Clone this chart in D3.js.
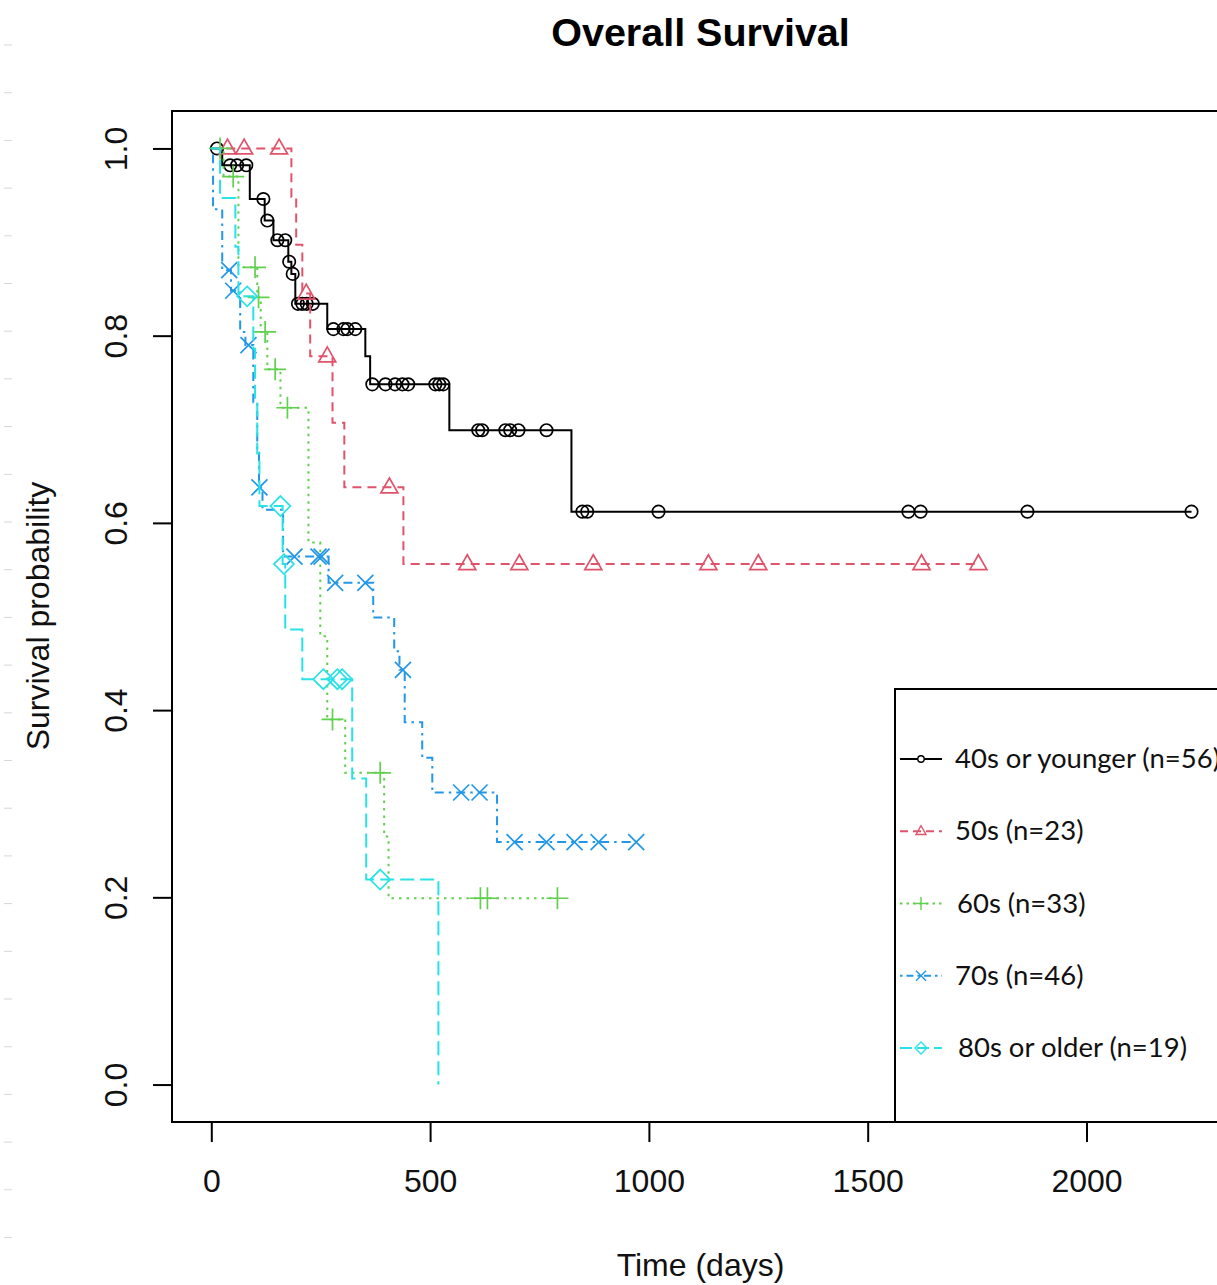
<!DOCTYPE html>
<html><head><meta charset="utf-8">
<script src="https://cdn.jsdelivr.net/npm/d3@7"></script>
<style>body{margin:0;background:#fff} svg{display:block}</style>
</head><body>
<svg id="chart" width="1217" height="1285"></svg>
<script>
// ---------------- data ----------------
const groupNames = ["40s or younger (n=56)", "50s (n=23)", "60s (n=33)", "70s (n=46)", "80s or older (n=19)"];
const xTicks = [0, 500, 1000, 1500, 2000];
const yTicks = [0.0, 0.2, 0.4, 0.6, 0.8, 1.0];

// 40s or younger
const g40_stepTimes = [25, 88, 122, 142, 176, 183, 192, 265, 352, 363, 544, 823];
const g40_stepSurv  = [0.982, 0.946, 0.923, 0.902, 0.879, 0.866, 0.834, 0.807, 0.778, 0.748, 0.699, 0.612];
const g40_censor    = [13, 43, 59, 80, 119, 128, 151, 169, 178, 186, 198, 208, 218, 232, 279, 302, 311, 329, 368, 398, 420, 437, 450, 512, 521, 530, 610, 619, 672, 683, 702, 766, 848, 859, 1022, 1593, 1621, 1865, 2240];
const g40_end = 2240;

// 50s
const g50_stepTimes = [183, 194, 208, 226, 277, 304, 439];
const g50_stepSurv  = [0.948, 0.897, 0.845, 0.778, 0.707, 0.638, 0.556];
const g50_censor    = [37, 75, 155, 217, 265, 407, 585, 704, 873, 1136, 1250, 1623, 1753];
const g50_end = 1753;

// 60s
const g60_stepTimes = [28, 62, 105, 113, 128, 158, 222, 249, 265, 306, 395, 405];
const g60_stepSurv  = [0.970, 0.873, 0.841, 0.804, 0.764, 0.723, 0.579, 0.479, 0.390, 0.333, 0.265, 0.199];
const g60_censor    = [20, 50, 100, 108, 123, 146, 174, 277, 386, 615, 631, 791];
const g60_end = 791;

// 70s
const g70_stepTimes = [4, 25, 45, 66, 78, 96, 105, 109, 117, 164, 268, 370, 418, 430, 442, 482, 505, 653];
const g70_stepSurv  = [0.935, 0.870, 0.848, 0.804, 0.790, 0.729, 0.675, 0.638, 0.614, 0.564, 0.536, 0.499, 0.463, 0.443, 0.387, 0.349, 0.312, 0.259];
const g70_censor    = [41, 50, 85, 110, 190, 245, 252, 283, 352, 438, 571, 613, 693, 766, 830, 885, 971];
const g70_end = 971;

// 80s or older
const g80_stepTimes = [20, 55, 62, 96, 100, 105, 110, 163, 169, 208, 322, 354, 519];
const g80_stepSurv  = [0.947, 0.895, 0.842, 0.786, 0.730, 0.674, 0.618, 0.556, 0.486, 0.433, 0.327, 0.219, 0.0];
const g80_censor    = [82, 158, 166, 256, 288, 299, 386];
const g80_end = 519;

// ---------------- styles ----------------
const colors  = ["#000000", "#DF536B", "#61D04F", "#2297E6", "#28E2E5"];
const dashes  = [null, "9,6", "2.5,5", "2.5,5,9,5", "14,6"];
const legendDashes = [null, "8,5", "2.5,4", "2.5,4,7,4", "12,5"];
const shapes  = ["circle", "triangle", "plus", "cross", "diamond"];

const series = [
  {t: g40_stepTimes, s: g40_stepSurv, c: g40_censor, end: g40_end},
  {t: g50_stepTimes, s: g50_stepSurv, c: g50_censor, end: g50_end},
  {t: g60_stepTimes, s: g60_stepSurv, c: g60_censor, end: g60_end},
  {t: g70_stepTimes, s: g70_stepSurv, c: g70_censor, end: g70_end},
  {t: g80_stepTimes, s: g80_stepSurv, c: g80_censor, end: g80_end}
].map((d, i) => ({...d, name: groupNames[i], color: colors[i], dash: dashes[i], ldash: legendDashes[i], shape: shapes[i]}));

// ---------------- layout ----------------
const svg = d3.select("#chart");
const W = 1217, H = 1285;
const box = {left: 172, right: 1233, top: 111, bottom: 1122};
const tMax = 2245;
const x = d3.scaleLinear().domain([-0.04 * tMax, 1.04 * tMax]).range([box.left, box.right]);
const y = d3.scaleLinear().domain([-0.04, 1.04]).range([box.bottom, box.top]);
const axisFont = "'Liberation Sans', Arial, sans-serif";

svg.append("rect").attr("width", W).attr("height", H).attr("fill", "#fff");

// faint ruler marks on left edge (screenshot artifact)
svg.append("g").selectAll("line").data(d3.range(45, 1250, 47.7)).join("line")
  .attr("x1", 4).attr("x2", 12).attr("y1", d => d).attr("y2", d => d)
  .attr("stroke", "#d6d6d6").attr("stroke-width", 1);

// title
svg.append("text").attr("x", (box.left + box.right) / 2 - 2).attr("y", 46)
  .attr("text-anchor", "middle").attr("font-family", axisFont)
  .attr("font-weight", "bold").attr("font-size", 39.5).attr("fill", "#000")
  .text("Overall Survival");

// x axis
const xAxis = svg.append("g").attr("transform", `translate(0,${box.bottom})`)
  .call(d3.axisBottom(x).tickValues(xTicks).tickSize(20).tickPadding(27).tickFormat(d3.format("d")));
xAxis.select(".domain").remove();
xAxis.selectAll("line").attr("stroke", "#000").attr("stroke-width", 2);
xAxis.selectAll("text").attr("font-family", axisFont).attr("font-size", 32).attr("fill", "#111");

// y axis
const yAxis = svg.append("g").attr("transform", `translate(${box.left},0)`)
  .call(d3.axisLeft(y).tickValues(yTicks).tickSize(19).tickFormat(d3.format(".1f")));
yAxis.select(".domain").remove();
yAxis.selectAll("line").attr("stroke", "#000").attr("stroke-width", 2);
yAxis.selectAll("text")
  .attr("font-family", axisFont).attr("font-size", 32).attr("fill", "#111")
  .attr("text-anchor", "middle").attr("dy", 0).attr("x", 0)
  .attr("transform", d => `translate(${127 - box.left},0) rotate(-90)`);

// axis titles
svg.append("text").attr("x", (box.left + box.right) / 2 - 2).attr("y", 1276)
  .attr("text-anchor", "middle").attr("font-family", axisFont).attr("font-size", 32).attr("fill", "#111")
  .text("Time (days)");
svg.append("text").attr("transform", `translate(49,616) rotate(-90)`)
  .attr("text-anchor", "middle").attr("font-family", axisFont).attr("font-size", 32).attr("fill", "#111")
  .text("Survival probability");

// plot box
svg.append("rect").attr("x", box.left).attr("y", box.top)
  .attr("width", box.right - box.left).attr("height", box.bottom - box.top)
  .attr("fill", "none").attr("stroke", "#000").attr("stroke-width", 2);

// ---------------- markers ----------------
function markerPath(shape, r) {
  switch (shape) {
    case "circle": return `M${-r},0A${r},${r} 0 1,0 ${r},0A${r},${r} 0 1,0 ${-r},0Z`;
    case "triangle": return `M0,${-r * 1.1}L${r},${r * 0.65}L${-r},${r * 0.65}Z`;
    case "plus": return `M${-r},0H${r}M0,${-r}V${r}`;
    case "cross": return `M${-r},${-r}L${r},${r}M${-r},${r}L${r},${-r}`;
    case "diamond": return `M0,${-r}L${r},0L0,${r}L${-r},0Z`;
  }
}
const markerSize = {circle: 6.2, triangle: 8.5, plus: 11, cross: 8, diamond: 10};
const legendMarkerSize = {circle: 3.2, triangle: 5, plus: 6.5, cross: 5, diamond: 6};

function survAt(sr, t) {
  let v = 1;
  for (let i = 0; i < sr.t.length; i++) if (sr.t[i] <= t) v = sr.s[i];
  return v;
}

const line = d3.line().x(d => x(d[0])).y(d => y(d[1])).curve(d3.curveStepAfter);

const plotG = svg.append("g");
series.forEach(sr => {
  const pts = [[0, 1]];
  sr.t.forEach((t, i) => pts.push([t, sr.s[i]]));
  const last = sr.s[sr.s.length - 1];
  if (sr.end > sr.t[sr.t.length - 1]) pts.push([sr.end, last]);
  plotG.append("path").datum(pts).attr("d", line)
    .attr("fill", "none").attr("stroke", sr.color).attr("stroke-width", 2)
    .attr("stroke-dasharray", sr.dash);
  plotG.append("g").selectAll("path").data(sr.c).join("path")
    .attr("transform", t => `translate(${x(t)},${y(survAt(sr, t))})`)
    .attr("d", markerPath(sr.shape, markerSize[sr.shape]))
    .attr("fill", "none").attr("stroke", sr.color).attr("stroke-width", 1.7);
});

// ---------------- legend ----------------
const leg = {left: 895, top: 689};
svg.append("rect").attr("x", leg.left).attr("y", leg.top)
  .attr("width", box.right - leg.left).attr("height", box.bottom - leg.top)
  .attr("fill", "#fff").attr("stroke", "#000").attr("stroke-width", 2);
const legY = d3.scalePoint().domain(groupNames).range([759, 1048]);
const legTextX = [955, 955, 957, 955, 958];
series.forEach((sr, i) => {
  const cy = legY(sr.name);
  const g = svg.append("g");
  g.append("line").attr("x1", 900).attr("x2", 942).attr("y1", cy).attr("y2", cy)
    .attr("stroke", sr.color).attr("stroke-width", 2).attr("stroke-dasharray", sr.ldash);
  g.append("path").attr("transform", `translate(921,${cy})`)
    .attr("d", markerPath(sr.shape, legendMarkerSize[sr.shape]))
    .attr("fill", sr.shape === "circle" ? "#fff" : "none").attr("stroke", sr.color).attr("stroke-width", 1.4);
  g.append("text").attr("x", legTextX[i]).attr("y", cy + 9)
    .attr("font-family", "Lato, 'Open Sans', sans-serif").attr("font-size", 27.5).attr("fill", "#111")
    .text(sr.name);
});
</script>
</body></html>
